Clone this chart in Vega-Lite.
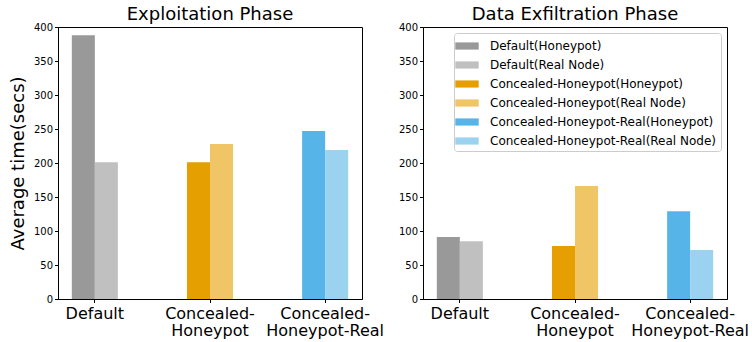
{
  "$schema": "https://vega.github.io/schema/vega-lite/v6.json",
  "padding": {"left": 8, "top": 5, "right": 0, "bottom": 0},
  "bounds": "flush",
  "spacing": 61,
  "data": {"values": [
    {"phase": "Exploitation", "config": "Default", "node": "Honeypot", "series": "Default(Honeypot)", "value": 388},
    {"phase": "Exploitation", "config": "Default", "node": "Real Node", "series": "Default(Real Node)", "value": 201},
    {"phase": "Exploitation", "config": "Concealed-Honeypot", "node": "Honeypot", "series": "Concealed-Honeypot(Honeypot)", "value": 201},
    {"phase": "Exploitation", "config": "Concealed-Honeypot", "node": "Real Node", "series": "Concealed-Honeypot(Real Node)", "value": 228},
    {"phase": "Exploitation", "config": "Concealed-Honeypot-Real", "node": "Honeypot", "series": "Concealed-Honeypot-Real(Honeypot)", "value": 247},
    {"phase": "Exploitation", "config": "Concealed-Honeypot-Real", "node": "Real Node", "series": "Concealed-Honeypot-Real(Real Node)", "value": 219},
    {"phase": "Exfiltration", "config": "Default", "node": "Honeypot", "series": "Default(Honeypot)", "value": 91},
    {"phase": "Exfiltration", "config": "Default", "node": "Real Node", "series": "Default(Real Node)", "value": 85},
    {"phase": "Exfiltration", "config": "Concealed-Honeypot", "node": "Honeypot", "series": "Concealed-Honeypot(Honeypot)", "value": 78},
    {"phase": "Exfiltration", "config": "Concealed-Honeypot", "node": "Real Node", "series": "Concealed-Honeypot(Real Node)", "value": 166},
    {"phase": "Exfiltration", "config": "Concealed-Honeypot-Real", "node": "Honeypot", "series": "Concealed-Honeypot-Real(Honeypot)", "value": 129},
    {"phase": "Exfiltration", "config": "Concealed-Honeypot-Real", "node": "Real Node", "series": "Concealed-Honeypot-Real(Real Node)", "value": 72}
  ]},
  "config": {
    "font": "DejaVu Sans",
    "view": {"stroke": "black", "strokeWidth": 1},
    "axis": {"domainColor": "black", "tickColor": "black", "labelColor": "black", "titleColor": "black", "tickSize": 3.5, "labelFont": "DejaVu Sans", "titleFont": "DejaVu Sans", "grid": false},
    "title": {"fontSize": 18, "fontWeight": "normal", "font": "DejaVu Sans", "color": "black"},
    "legend": {"strokeColor": "#cccccc", "fillColor": "white", "cornerRadius": 3, "padding": 4, "symbolType": "M-1.3,-0.4H1.3V0.4H-1.3Z", "symbolSize": 324, "symbolStrokeWidth": 0, "symbolOpacity": 1, "labelFontSize": 12, "labelFont": "DejaVu Sans", "labelColor": "black", "labelOffset": 14, "rowPadding": 4, "labelLimit": 400}
  },
  "resolve": {"scale": {"color": "independent"}, "legend": {"color": "independent"}},
  "hconcat": [
    {
      "width": 304, "height": 272,
      "title": {"text": "Exploitation Phase", "offset": -2},
      "transform": [{"filter": "datum.phase === 'Exploitation'"}],
      "mark": {"type": "bar"},
      "encoding": {
        "x": {"field": "config", "type": "nominal", "sort": ["Default", "Concealed-Honeypot", "Concealed-Honeypot-Real"],
          "scale": {"paddingInner": 0.6, "paddingOuter": 0.12},
          "axis": {"title": null, "labelAngle": 0, "labelFontSize": 16, "labelOverlap": false, "labelBound": false, "labelPadding": 3, "labelLineHeight": 17,
            "labelExpr": "indexof(datum.label,'-') > 0 ? [substring(datum.label,0,indexof(datum.label,'-')+1), substring(datum.label,indexof(datum.label,'-')+1)] : datum.label"}},
        "xOffset": {"field": "node", "type": "nominal", "sort": ["Honeypot", "Real Node"], "scale": {"paddingInner": 0, "paddingOuter": 0}},
        "y": {"field": "value", "type": "quantitative", "scale": {"domain": [0, 400]},
          "axis": {"values": [0, 50, 100, 150, 200, 250, 300, 350, 400], "title": "Average time(secs)", "titleFontSize": 18, "titleFontWeight": "normal", "labelFontSize": 10, "titlePadding": 6}},
        "color": {"field": "series", "type": "nominal",
          "scale": {"domain": ["Default(Honeypot)", "Default(Real Node)", "Concealed-Honeypot(Honeypot)", "Concealed-Honeypot(Real Node)", "Concealed-Honeypot-Real(Honeypot)", "Concealed-Honeypot-Real(Real Node)"],
            "range": ["#999999", "#c0c0c0", "#e69f00", "#f0c566", "#56b4e9", "#9ad2f0"]},
          "legend": null}
      }
    },
    {
      "width": 304, "height": 272,
      "title": {"text": "Data Exfiltration Phase", "offset": -2},
      "transform": [{"filter": "datum.phase === 'Exfiltration'"}],
      "mark": {"type": "bar"},
      "encoding": {
        "x": {"field": "config", "type": "nominal", "sort": ["Default", "Concealed-Honeypot", "Concealed-Honeypot-Real"],
          "scale": {"paddingInner": 0.6, "paddingOuter": 0.12},
          "axis": {"title": null, "labelAngle": 0, "labelFontSize": 16, "labelOverlap": false, "labelBound": false, "labelPadding": 3, "labelLineHeight": 17,
            "labelExpr": "indexof(datum.label,'-') > 0 ? [substring(datum.label,0,indexof(datum.label,'-')+1), substring(datum.label,indexof(datum.label,'-')+1)] : datum.label"}},
        "xOffset": {"field": "node", "type": "nominal", "sort": ["Honeypot", "Real Node"], "scale": {"paddingInner": 0, "paddingOuter": 0}},
        "y": {"field": "value", "type": "quantitative", "scale": {"domain": [0, 400]},
          "axis": {"values": [0, 50, 100, 150, 200, 250, 300, 350, 400], "title": null, "labelFontSize": 10}},
        "color": {"field": "series", "type": "nominal",
          "scale": {"domain": ["Default(Honeypot)", "Default(Real Node)", "Concealed-Honeypot(Honeypot)", "Concealed-Honeypot(Real Node)", "Concealed-Honeypot-Real(Honeypot)", "Concealed-Honeypot-Real(Real Node)"],
            "range": ["#999999", "#c0c0c0", "#e69f00", "#f0c566", "#56b4e9", "#9ad2f0"]},
          "legend": {"title": null, "orient": "top-right", "offset": 6}}
      }
    }
  ]
}
